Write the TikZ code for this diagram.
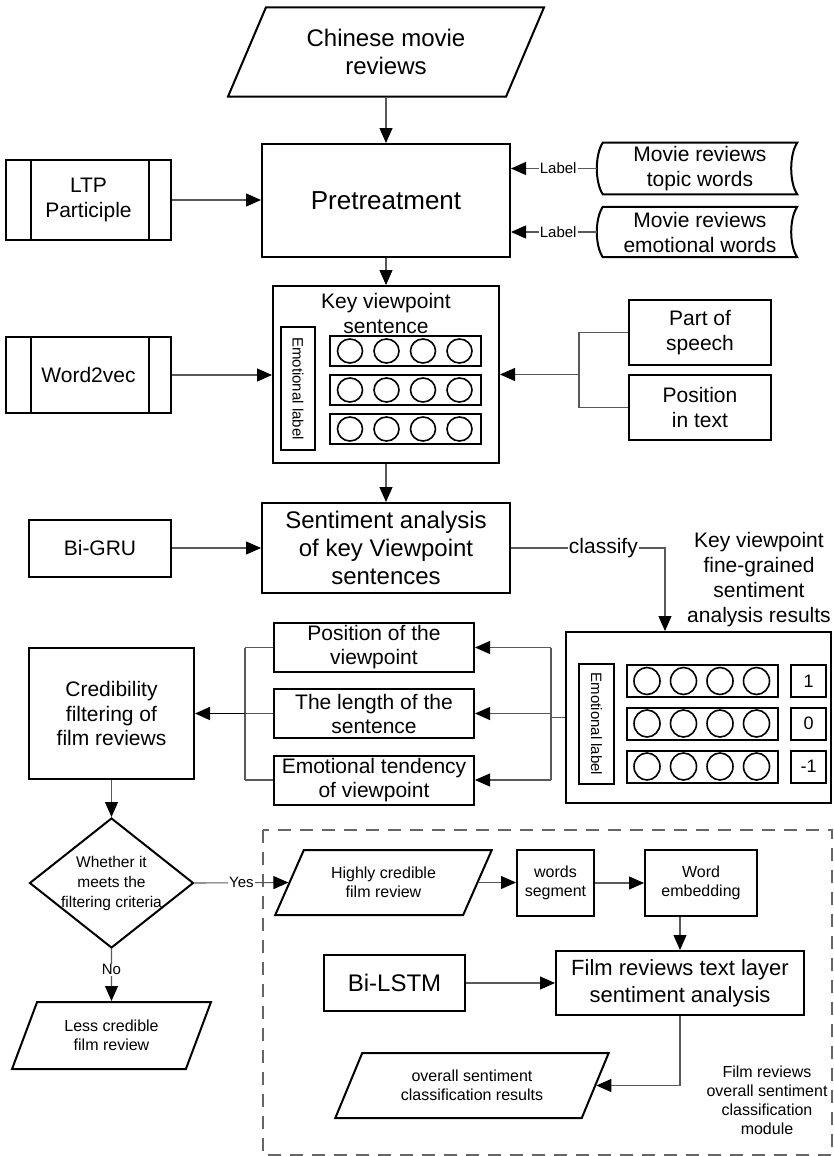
\documentclass[tikz,border=0pt]{standalone}
\usepackage{fontspec}
\setmainfont{Liberation Sans}
\usetikzlibrary{arrows.meta,shapes.geometric}
\newcommand{\fsz}[2]{\fontsize{#1}{#2}\selectfont}

\begin{document}
\begin{tikzpicture}[x=1pt,y=-1pt,
  box/.style={draw, line width=2pt, align=center, inner sep=1pt},
  para/.style={box, trapezium, trapezium left angle=62, trapezium right angle=118, trapezium stretches=true},
  conn/.style={draw=gray!70!black, line width=1.1pt},
  arr/.style={conn, -{Triangle[length=15pt,width=13pt,color=black]}},
  txtbig/.style={font=\fsz{24}{28}},
  txtmid/.style={font=\fsz{21}{25}},
  txtsml/.style={font=\fsz{16}{19.5}},
  lab/.style={fill=white, inner sep=1pt}]
\useasboundingbox (0,0) rectangle (834,1156);
%\draw[step=50,gray,very thin] (0,0) grid (834,1156);

% input and pretreatment
\node[para, txtbig, minimum width=317, minimum height=89] (reviews) at (386,52) {Chinese movie\\reviews};
\node[box, font=\fsz{26}{30}, minimum width=248, minimum height=113] (pretreat) at (386,200.5) {Pretreatment};
\node[box, txtmid, minimum width=165, minimum height=80] (ltp) at (88.5,200) {LTP\\Participle};
\node[txtmid, align=center, minimum width=194, minimum height=49] (topic) at (700,168.5) {Movie reviews\\topic words};
\node[txtmid, align=center, minimum width=194, minimum height=50] (emow) at (700,232) {Movie reviews\\emotional words};
\foreach \t in {topic,emow}
  \draw[line width=2pt] (\t.north west) .. controls +(-8,12) and +(-8,-12) .. (\t.south west) -- (\t.south east) .. controls +(-8,-12) and +(-8,12) .. (\t.north east) -- cycle;
\draw[arr] (reviews.south -| pretreat.north) -- (pretreat.north);
\draw[arr] (ltp.east) -- (ltp.east -| pretreat.west);
\draw[arr] ([xshift=-6pt]topic.west) -- (pretreat.east |- topic.west) node[pos=0.45, lab, font=\fsz{15}{18}] {Label};
\draw[arr] ([xshift=-6pt]emow.west) -- (pretreat.east |- emow.west) node[pos=0.45, lab, font=\fsz{15}{18}] {Label};

% key viewpoint sentence
\node[box, minimum width=226, minimum height=177] (keyvp) at (386,374.5) {};
\node[txtmid, align=center] (keyvpt) at (386,313) {Key viewpoint\\sentence};
\node[box, rotate=-90, font=\fsz{15}{18}, line width=1.6pt, minimum width=123, minimum height=34] (emolab) at (298,388.5) {Emotional label};
\foreach \y [count=\k] in {351,390,429} {
  \node[box, minimum width=151, minimum height=30] (row\k) at (405.5,\y) {};
  \foreach \i in {0,...,3}
    \draw[line width=1.6pt] ([xshift={(21+36.5*\i)*1pt}]row\k.west) circle[x radius=12.5pt, y radius=12pt];
}
\node[box, txtmid, minimum width=165, minimum height=76] (w2v) at (88.5,375) {Word2vec};
\foreach \t in {ltp,w2v}
  \draw[line width=2pt] ([xshift=26pt]\t.north west) -- ([xshift=26pt]\t.south west)
    ([xshift=-23pt]\t.north east) -- ([xshift=-23pt]\t.south east);
\node[box, txtmid, minimum width=142, minimum height=65] (speech) at (700,332.5) {Part of\\speech};
\node[box, txtmid, minimum width=142, minimum height=65] (posit) at (700,407.5) {Position\\in text};
\coordinate (jn1) at (579,374.5);
\draw[conn] (speech.west) -| (jn1) |- (posit.west);
\draw[arr] (jn1) -- (jn1 -| keyvp.east);
\draw[arr] (w2v.east) -- (w2v.east -| keyvp.west);
\draw[arr] (pretreat.south) -- (keyvp.north);

% sentiment analysis of key viewpoints
\node[box, txtbig, minimum width=248, minimum height=90] (senti) at (386,548) {Sentiment analysis\\of key Viewpoint\\sentences};
\node[box, txtmid, minimum width=142, minimum height=57] (bigru) at (100,548) {Bi-GRU};
\draw[arr] (keyvp.south) -- (senti.north);
\draw[arr] (bigru.east) -- (senti.west);

% fine-grained results
\node[txtmid, align=center] (restitle) at (759,579.5) {Key viewpoint\\fine-grained\\sentiment\\analysis results};
\node[box, minimum width=265, minimum height=171] (results) at (698.5,717.5) {};
\node[box, rotate=-90, font=\fsz{15}{18}, line width=1.6pt, minimum width=120, minimum height=35] (emolab2) at (596.5,724) {Emotional label};
\foreach \y/\v [count=\k] in {681/1,723.5/0,766.5/-1} {
  \node[box, minimum width=151, minimum height=32] (rrow\k) at (702.5,\y) {};
  \node[box, font=\fsz{18}{21}, minimum width=35, minimum height=32] (val\k) at (808.5,\y) {\v};
  \foreach \i in {0,...,3}
    \draw[line width=1.6pt] ([xshift={(21+36.5*\i)*1pt}]rrow\k.west) circle[x radius=13pt, y radius=13.5pt];
}
\coordinate (cls) at (665,548);
\draw[arr] (senti.east) -- (cls) node[pos=0.6, lab, txtmid] {classify} -- (cls |- results.north);

% credibility factors
\node[box, font=\fsz{21}{24}, minimum width=200, minimum height=49] (vpos) at (374,647.5) {Position of the\\viewpoint};
\node[box, font=\fsz{21}{24}, minimum width=200, minimum height=49] (vlen) at (374,713.5) {The length of the\\sentence};
\node[box, font=\fsz{21}{24}, minimum width=200, minimum height=49] (vtend) at (374,780) {Emotional tendency\\of viewpoint};
\node[box, font=\fsz{21}{24.5}, minimum width=165, minimum height=131] (cred) at (111.5,713.5) {Credibility\\filtering of\\film reviews};
\coordinate (jn2) at (551,717.5);
\draw[conn] (results.west) -- (jn2);
\draw[conn] (jn2 |- vpos.east) -- (jn2 |- vtend.east);
\foreach \b in {vpos,vlen,vtend}
  \draw[arr] (jn2 |- \b.east) -- (\b.east);
\coordinate (jn3) at (245,713.5);
\draw[conn] (jn3 |- vpos.west) -- (jn3 |- vtend.west);
\foreach \b in {vpos,vlen,vtend}
  \draw[conn] (\b.west) -- (jn3 |- \b.west);
\draw[arr, draw=black, line width=1.6pt] (jn3) -- (jn3 -| cred.east);

% filtering decision
\node[box, diamond, inner sep=0pt, minimum width=164, minimum height=130] (crit) at (111.5,883) {};
\node[font=\fsz{15.5}{20}, align=center] (critt) at (111.5,883) {Whether it\\meets the\\filtering criteria};
\draw[arr] (cred.south) -- (crit.north);
\node[para, txtsml, trapezium left angle=64, trapezium right angle=116, minimum width=199, minimum height=67] (lesscred) at (111.5,1035.5) {Less credible\\film review};
\draw[arr] (crit.south) -- (lesscred.north) node[pos=0.4, lab, font=\fsz{15}{18}] {No};

% overall sentiment module
\draw[gray!80!black, line width=1.5pt, dash pattern=on 13pt off 9pt] (263,830) rectangle (832,1155);
\node[para, txtsml, trapezium left angle=60, trapezium right angle=120, minimum width=217, minimum height=65] (hicred) at (383.5,882.5) {Highly credible\\film review};
\node[box, txtsml, minimum width=77, minimum height=66] (wseg) at (555.5,883) {words\\segment};
\node[box, txtsml, minimum width=112, minimum height=66] (wemb) at (701,883) {Word\\embedding};
\draw[arr] (crit.east) -- (hicred.west) node[pos=0.5, lab, font=\fsz{15}{18}] {Yes};
\draw[arr] (hicred.east) -- (hicred.east -| wseg.west);
\draw[arr] (wseg.east) -- (wemb.west);
\node[box, font=\fsz{22}{27}, minimum width=248, minimum height=64] (film) at (680,983) {Film reviews text layer\\sentiment analysis};
\node[box, txtbig, minimum width=141, minimum height=56] (bilstm) at (394.5,983) {Bi-LSTM};
\draw[arr] (wemb.south -| film.north) -- (film.north);
\draw[arr] (bilstm.east) -- (film.west);
\node[para, txtsml, minimum width=274, minimum height=65] (overall) at (472,1085.5) {overall sentiment\\classification results};
\draw[arr] (film.south) |- (overall.east);
\node[font=\fsz{16}{19}, align=center] (module) at (767,1100) {Film reviews\\overall sentiment\\classification\\module};
\end{tikzpicture}
\end{document}
